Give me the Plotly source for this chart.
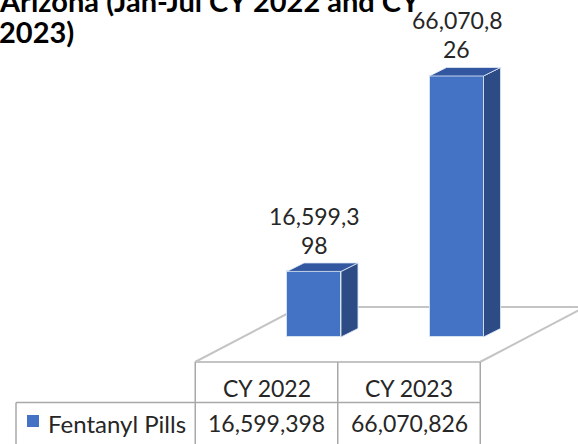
import plotly.graph_objects as go

# ---------------- data ----------------
categories = ["CY 2022", "CY 2023"]
series_name = "Fentanyl Pills"
values = [16599398, 66070826]
title_lines = ["Arizona (Jan-Jul CY 2022 and CY", "2023)"]

# ---------------- geometry / style ----------------
W, H = 578, 444
FONT = "Lato"
TXT = "#262626"
FRONT = "#4472C4"
SIDE = "#2D4C86"
TOP = "#3257A0"
EDGE = "rgba(220,230,245,0.85)"
FLOOR = "#C4C4C4"
GRID = "#A8A8A8"

CAT_PX = 142.5      # px per category
X0_PX = 266.5       # pixel of first category (table/floor front)
BASE_PX = 337       # pixel of value 0 on bar front face
MAX_TOP_PX = 76     # pixel of max bar top
SHIFT_PX = 47.5     # front face centre offset (depth)
BAR_W_PX = 54
DDX_PX, DDY_PX = 17, 8.5

k = (BASE_PX - MAX_TOP_PX) / max(values)  # px per unit


def ux(p):  # pixel x -> data x
    return (p - X0_PX) / CAT_PX


def uy(p):  # pixel y -> data y
    return (BASE_PX - p) / k


shift = SHIFT_PX / CAT_PX
bw = BAR_W_PX / CAT_PX
ddx = DDX_PX / CAT_PX
ddy = DDY_PX / k

fig = go.Figure()

# front faces
fig.add_trace(go.Bar(
    x=[i + shift for i in range(len(values))], y=values, width=bw,
    marker=dict(color=FRONT, line=dict(color=EDGE, width=1)),
    hoverinfo="skip", showlegend=False))

# side & top faces
for i, v in enumerate(values):
    xl = i + shift - bw / 2
    xr = i + shift + bw / 2
    fig.add_trace(go.Scatter(
        x=[xr, xr + ddx, xr + ddx, xr, xr], y=[0, ddy, v + ddy, v, 0],
        fill="toself", fillcolor=SIDE, mode="lines",
        line=dict(color=EDGE, width=1), hoverinfo="skip", showlegend=False))
    fig.add_trace(go.Scatter(
        x=[xl, xr, xr + ddx, xl + ddx, xl], y=[v, v, v + ddy, v + ddy, v],
        fill="toself", fillcolor=TOP, mode="lines",
        line=dict(color=EDGE, width=1), hoverinfo="skip", showlegend=False))

shapes = []
# floor (parallelogram)
fl = [(195, 362), (480, 362), (585, 307), (300, 307)]
for a, b in zip(fl, fl[1:] + fl[:1]):
    shapes.append(dict(type="line", xref="x", yref="y", layer="below",
                       x0=ux(a[0]), y0=uy(a[1]), x1=ux(b[0]), y1=uy(b[1]),
                       line=dict(color=FLOOR, width=2)))

# data table grid
n = len(categories)
left_px = X0_PX - CAT_PX / 2
for j in range(n + 1):
    xp = left_px + j * CAT_PX
    shapes.append(dict(type="line", xref="x", yref="y",
                       x0=ux(xp), y0=uy(362), x1=ux(xp), y1=uy(450),
                       line=dict(color=GRID, width=1.5)))
shapes.append(dict(type="line", xref="x", yref="y",
                   x0=ux(16), y0=uy(402.5), x1=ux(left_px + n * CAT_PX), y1=uy(402.5),
                   line=dict(color=GRID, width=1.5)))
shapes.append(dict(type="line", xref="x", yref="y",
                   x0=ux(16), y0=uy(402.5), x1=ux(16), y1=uy(450),
                   line=dict(color=GRID, width=1.5)))
# legend key
shapes.append(dict(type="rect", xref="x", yref="y", line=dict(width=0),
                   x0=ux(27), x1=ux(39), y0=uy(415), y1=uy(427), fillcolor=FRONT))

ann = []
SZ = 23
off = 0.387  # baseline -> middle offset (em)

# bar value labels (wrapped like the original)
for i, v in enumerate(values):
    s = f"{v:,}"
    lines = [s[:8], s[8:]]
    top_px = BASE_PX - v * k
    base2 = top_px - 18
    for li, t in enumerate(lines):
        bl = base2 - (len(lines) - 1 - li) * 29
        ann.append(dict(x=i + shift, y=uy(bl - off * SZ), xref="x", yref="y",
                        text=t, showarrow=False, xanchor="center", yanchor="middle",
                        font=dict(family=FONT, size=SZ, color=TXT)))

# table texts
for i, c in enumerate(categories):
    ann.append(dict(x=i, y=uy(397 - off * SZ), xref="x", yref="y", text=c,
                    showarrow=False, xanchor="center", yanchor="middle",
                    font=dict(family=FONT, size=SZ, color=TXT)))
    ann.append(dict(x=i, y=uy(432 - off * SZ), xref="x", yref="y", text=f"{values[i]:,}",
                    showarrow=False, xanchor="center", yanchor="middle",
                    font=dict(family=FONT, size=SZ, color=TXT)))
ann.append(dict(x=ux(46), y=uy(432 - off * SZ), xref="x", yref="y", text=series_name,
                showarrow=False, xanchor="left", yanchor="middle",
                font=dict(family=FONT, size=SZ + 1, color=TXT)))

# title (partially cut at top like the reference)
TS = 29
for li, t in enumerate(title_lines):
    bl = 12 + li * 31
    ann.append(dict(x=0, y=1 - (bl - off * TS) / H, xref="paper", yref="paper",
                    xshift=-3, text=f"<b>{t}</b>",
                    showarrow=False, xanchor="left", yanchor="middle",
                    font=dict(family=FONT, size=TS, color="#000000")))

fig.update_layout(
    width=W, height=H, margin=dict(l=0, r=0, t=0, b=0),
    paper_bgcolor="white", plot_bgcolor="white",
    xaxis=dict(range=[ux(0), ux(W)], visible=False, fixedrange=True),
    yaxis=dict(range=[uy(H), uy(0)], visible=False, fixedrange=True),
    shapes=shapes, annotations=ann, showlegend=False, bargap=0,
)

fig.write_html("out.html", config={"displayModeBar": False},
               post_script="document.body.style.margin='0';")
